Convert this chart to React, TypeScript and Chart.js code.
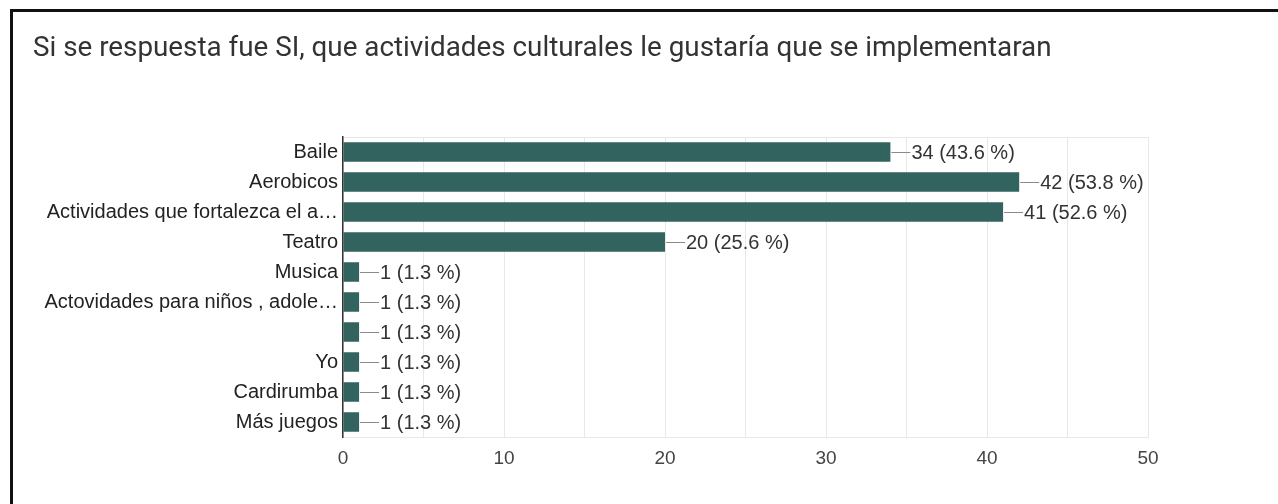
import React, { useEffect, useRef } from "react";
import { Chart, registerables } from "chart.js";

Chart.register(...registerables);

const titleText =
  "Si se respuesta fue SI, que actividades culturales le gustaría que se implementaran";

const categories = [
  "Baile",
  "Aerobicos",
  "Actividades que fortalezca el a…",
  "Teatro",
  "Musica",
  "Actovidades para niños , adole…",
  "",
  "Yo",
  "Cardirumba",
  "Más juegos",
];

const counts = [34, 42, 41, 20, 1, 1, 1, 1, 1, 1];

const percents = ["43.6", "53.8", "52.6", "25.6", "1.3", "1.3", "1.3", "1.3", "1.3", "1.3"];

const xTickLabels = [0, 10, 20, 30, 40, 50];

const FONT = '"Liberation Sans", Arial, sans-serif';

const valueLabelPlugin = {
  id: "valueLabels",
  afterDatasetsDraw(chart: any) {
    const ctx = chart.ctx;
    const meta = chart.getDatasetMeta(0);
    ctx.save();
    meta.data.forEach((el: any, i: number) => {
      const x = el.x;
      const y = el.y;
      ctx.strokeStyle = "#8a8a8a";
      ctx.lineWidth = 1;
      ctx.beginPath();
      ctx.moveTo(x + 1, Math.round(y) + 0.5);
      ctx.lineTo(x + 20, Math.round(y) + 0.5);
      ctx.stroke();
      ctx.fillStyle = "#333333";
      ctx.font = "20px " + FONT;
      ctx.textBaseline = "middle";
      ctx.textAlign = "left";
      ctx.fillText(`${counts[i]} (${percents[i]} %)`, x + 21, y + 1);
    });
    ctx.restore();
  },
};

export default function App() {
  const ref = useRef<HTMLCanvasElement | null>(null);

  useEffect(() => {
    if (!ref.current) return;
    const chart = new Chart(ref.current, {
      type: "bar",
      data: {
        labels: categories,
        datasets: [
          {
            data: counts,
            backgroundColor: "#32635e",
            borderWidth: 0,
            barPercentage: 0.65,
            categoryPercentage: 1,
          },
        ],
      },
      options: {
        indexAxis: "y",
        responsive: false,
        maintainAspectRatio: false,
        animation: false,
        layout: { padding: { top: 137, right: 130, bottom: 0, left: 0 } },
        plugins: {
          legend: { display: false },
          tooltip: { enabled: false },
          title: { display: false },
        },
        scales: {
          x: {
            min: 0,
            max: 50,
            afterFit: (s: any) => {
              s.height = 67;
            },
            ticks: {
              stepSize: 5,
              autoSkip: false,
              maxRotation: 0,
              padding: 10,
              color: "#444444",
              font: { size: 19, family: FONT },
              callback: (v: any) => (xTickLabels.includes(Number(v)) ? String(v) : ""),
            },
            grid: { color: "#e8e8e8", lineWidth: 1, drawTicks: false },
            border: { color: "#e8e8e8", width: 1 },
          },
          y: {
            afterFit: (s: any) => {
              s.width = 343;
            },
            ticks: {
              autoSkip: false,
              padding: 5,
              color: "#222222",
              font: { size: 20, family: FONT },
            },
            grid: {
              offset: true,
              drawTicks: false,
              color: (c: any) => (c.index === 0 ? "#e8e8e8" : "rgba(0,0,0,0)"),
            },
            border: { color: "#333333", width: 1.5 },
          },
        },
      },
      plugins: [valueLabelPlugin],
    });
    return () => chart.destroy();
  }, []);

  return (
    <div
      style={{
        position: "fixed",
        left: 0,
        top: 0,
        width: 1278,
        height: 504,
        background: "#ffffff",
        overflow: "hidden",
      }}
    >
      <canvas
        ref={ref}
        width={1278}
        height={504}
        style={{ position: "absolute", left: 0, top: 0, width: 1278, height: 504 }}
      />
      <div
        style={{
          position: "absolute",
          left: 10,
          top: 9,
          right: 0,
          bottom: 0,
          borderTop: "3px solid #111111",
          borderLeft: "3px solid #111111",
          pointerEvents: "none",
        }}
      />
      <div
        style={{
          position: "absolute",
          left: 33,
          top: 31,
          fontFamily: "Roboto, Arial, sans-serif",
          fontSize: 27.8,
          lineHeight: "32px",
          color: "#333333",
          whiteSpace: "nowrap",
        }}
      >
        {titleText}
      </div>
    </div>
  );
}
